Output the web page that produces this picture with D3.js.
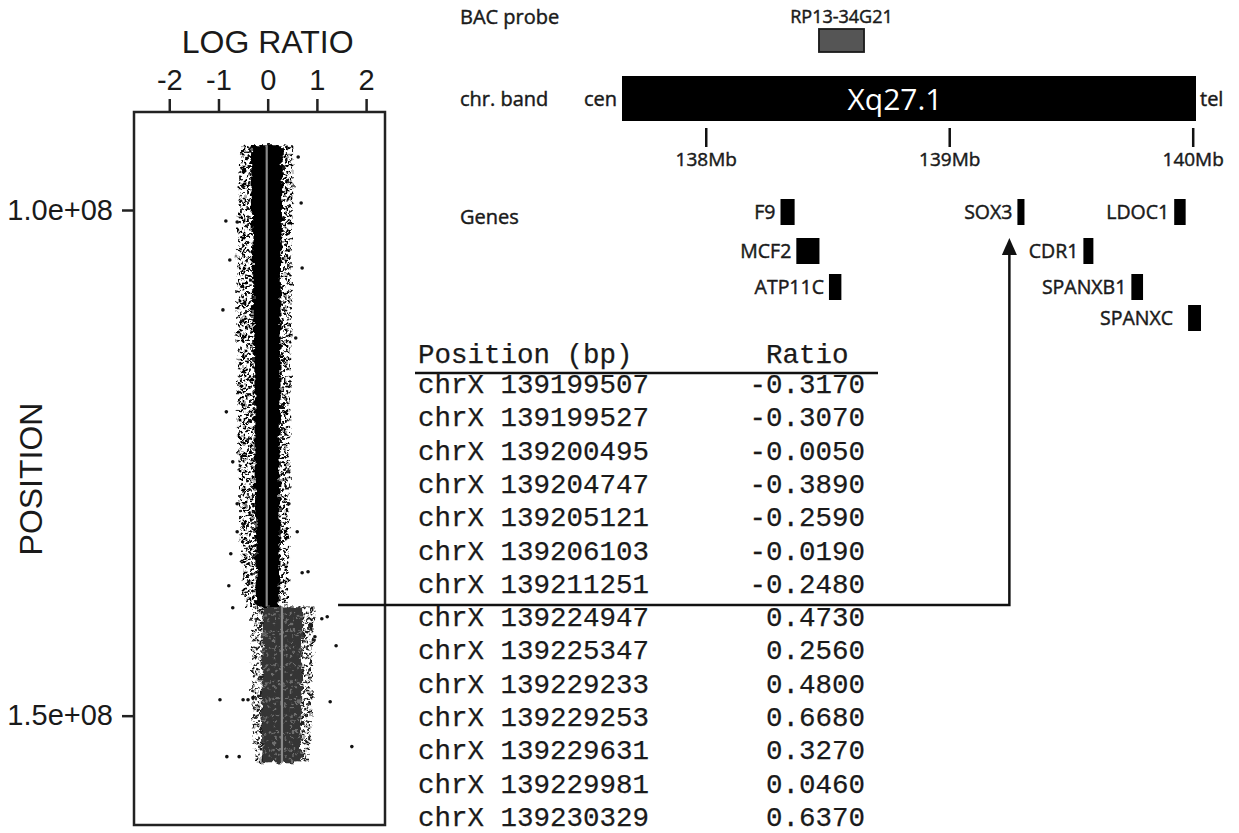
<!DOCTYPE html>
<html>
<head>
<meta charset="utf-8">
<script src="https://cdn.jsdelivr.net/npm/d3@7"></script>
<style>
  body { margin: 0; background: #fff; }
  .sans { font-family: "Liberation Sans", Arial, sans-serif; fill: #1a1a1a; }
  .lab { font-family: "Open Sans", "Noto Sans", sans-serif; fill: #1a1a1a; stroke: #1a1a1a; stroke-width: 0.45px; }
  .mono { font-family: "Liberation Mono", "Courier New", monospace; fill: #1a1a1a; stroke: #1a1a1a; stroke-width: 0.25px; }
</style>
</head>
<body>
<script>
// Screen dimensions.
const WIDTH = 1239;
const HEIGHT = 833;

// Left panel: axis ticks (log ratio, position in Mb).
const ratioTicks = [-2, -1, 0, 1, 2];
const positionTicks = [100, 150];

// Segments of the profile (Mb) and their median log ratio.
const segStart = [93.6, 139.21];
const segEnd = [139.21, 154.6];
const segMedian = [-0.02, 0.29];

// Envelope of the probe cloud (Mb, log ratio).
const upperPos = [93.6, 97, 103, 110, 117, 124, 131, 136, 139.21];
const upperSpreadLo = [-0.54, -0.58, -0.62, -0.64, -0.62, -0.60, -0.56, -0.52, -0.48];
const upperSpreadHi = [0.51, 0.53, 0.49, 0.49, 0.47, 0.45, 0.45, 0.43, 0.41];
const upperCoreLo = [-0.34, -0.33, -0.31, -0.29, -0.27, -0.27, -0.25, -0.25, -0.23];
const upperCoreHi = [0.31, 0.30, 0.28, 0.26, 0.26, 0.24, 0.24, 0.24, 0.24];

const lowerPos = [139.21, 142, 146, 150, 154.6];
const lowerSpreadLo = [-0.36, -0.32, -0.34, -0.32, -0.26];
const lowerSpreadHi = [0.98, 0.94, 0.92, 0.90, 0.82];
const lowerCoreLo = [-0.10, -0.10, -0.12, -0.12, -0.10];
const lowerCoreHi = [0.70, 0.70, 0.68, 0.68, 0.68];

// Isolated probes outside the cloud.
const outlierPos = [94.76, 99.31, 101.09, 101.19, 104.94, 105.73, 109.88, 112.65, 119.96, 124.9,
  129.05, 129.05, 131.82, 131.82, 133.99, 135.77, 135.87, 137.15, 139.33, 140.22, 140.42,
  142.19, 143.08, 148.22, 148.42, 148.42, 148.42, 148.62, 153.06, 154.05, 154.05];
const outlierRatio = [0.62, 0.68, -0.85, -0.62, -0.77, 0.70, -0.91, 0.57, -0.84, -0.71,
  -0.62, 0.43, -0.62, 0.60, -0.75, 0.82, 0.70, -0.79, -0.71, 1.21, 1.10,
  0.96, 1.39, -0.30, -0.97, -0.50, -0.40, 1.27, 1.71, -0.83, -0.58];

// Right panel: chromosome band, BAC probe, genes (Mb).
const bandName = 'Xq27.1';
const bandStart = 137.654;
const bandEnd = 140.0115;
const mbTicks = [138, 139, 140];
const bacName = 'RP13-34G21';
const bacStart = 138.463;
const bacEnd = 138.648;
const geneNames = ['F9', 'MCF2', 'ATP11C', 'SOX3', 'CDR1', 'SPANXB1', 'LDOC1', 'SPANXC'];
const geneStart = [138.305, 138.370, 138.504, 139.278, 139.549, 139.746, 139.922, 139.979];
const geneEnd = [138.363, 138.465, 138.555, 139.307, 139.590, 139.794, 139.969, 140.032];
const geneRow = [0, 1, 2, 0, 1, 2, 0, 3];
const breakpointTarget = 139.245;

// Table of probes around the breakpoint.
const tablePos = [139199507, 139199527, 139200495, 139204747, 139205121, 139206103, 139211251,
  139224947, 139225347, 139229233, 139229253, 139229631, 139229981, 139230329];
const tableRatio = [-0.3170, -0.3070, -0.0050, -0.3890, -0.2590, -0.0190, -0.2480,
  0.4730, 0.2560, 0.4800, 0.6680, 0.3270, 0.0460, 0.6370];

// SVG
const svg = d3.select('body').append('svg').attr('width', WIDTH).attr('height', HEIGHT);

// textures for the cloud of probes
const defs = svg.append('defs');
function speckle(id, color, size, r, dots) {
  const p = defs.append('pattern').attr('id', id)
    .attr('width', size).attr('height', size).attr('patternUnits', 'userSpaceOnUse');
  dots.forEach(c => {
    p.append('circle').attr('cx', c[0]).attr('cy', c[1]).attr('r', r).attr('fill', color);
  });
}
const tileDots = [[1.5, 2], [6, 1], [11, 3.5], [15, 1.5], [3.5, 7], [8.5, 6], [13.5, 8.5], [2, 12],
  [7, 11], [11.5, 13.5], [15.5, 12], [4.5, 15.5], [9.5, 16], [0.5, 9], [14, 5], [6, 14]];
speckle('speckA', '#000', 17, 1.5, tileDots);
speckle('speckB', '#1e1e1e', 17, 1.5, tileDots);
speckle('mottle', '#6e6e6e', 17, 1.3, tileDots.slice(0, 8));

const rough = defs.append('filter').attr('id', 'rough')
  .attr('x', '-20%').attr('y', '-5%').attr('width', '140%').attr('height', '110%');
rough.append('feTurbulence').attr('type', 'fractalNoise').attr('baseFrequency', 0.18)
  .attr('numOctaves', 2).attr('seed', 5).attr('result', 'n');
rough.append('feDisplacementMap').attr('in', 'SourceGraphic').attr('in2', 'n')
  .attr('scale', 8).attr('xChannelSelector', 'R').attr('yChannelSelector', 'G');

// ---------- left panel ----------
const x = d3.scaleLinear().domain([-2.717, 2.384]).range([134, 385]);
const y = d3.scaleLinear().domain([90.31, 160.81]).range([112, 825]);

svg.append('text').attr('class', 'sans')
  .attr('x', x(0)).attr('y', 53)
  .attr('text-anchor', 'middle').style('font-size', '32px')
  .text('LOG RATIO');

svg.append('text').attr('class', 'sans')
  .attr('transform', 'translate(42,479) rotate(-90)')
  .attr('text-anchor', 'middle').style('font-size', '32px')
  .text('POSITION');

const topAxis = svg.append('g').attr('transform', 'translate(0,112)')
  .call(d3.axisTop(x).tickValues(ratioTicks).tickSize(13).tickPadding(9).tickFormat(d => String(d)));
topAxis.select('.domain').remove();

function sci(mb) {
  const s = d3.format('.1e')(mb * 1e6).replace('\u2212', '-');
  return s.replace(/e\+(\d)$/, 'e+0$1');
}
const leftAxis = svg.append('g').attr('transform', 'translate(134,0)')
  .call(d3.axisLeft(y).tickValues(positionTicks).tickSize(12).tickPadding(9).tickFormat(sci));
leftAxis.select('.domain').remove();

[topAxis, leftAxis].forEach(a => {
  a.selectAll('line').attr('stroke', '#222').attr('stroke-width', 2.5);
  a.selectAll('text').attr('class', 'sans').attr('fill', '#1a1a1a')
    .style('font-family', '"Liberation Sans", Arial, sans-serif').style('font-size', '29px');
});

const band = (pos, lo, hi) => pos.map((p, i) => ({ p: p, lo: lo[i], hi: hi[i] }));
const area = d3.area().y(d => y(d.p)).x0(d => x(d.lo)).x1(d => x(d.hi)).curve(d3.curveMonotoneY);

const cloud = svg.append('g');
const fringe = cloud.append('g').attr('filter', 'url(#rough)');
fringe.append('path').attr('d', area(band(upperPos, upperSpreadLo, upperSpreadHi)))
  .attr('fill', 'url(#speckA)');
fringe.append('path').attr('d', area(band(lowerPos, lowerSpreadLo, lowerSpreadHi)))
  .attr('fill', 'url(#speckB)');
const core = cloud.append('g').attr('filter', 'url(#rough)');
core.append('path').attr('d', area(band(upperPos, upperCoreLo, upperCoreHi)))
  .attr('fill', '#000');
core.append('path').attr('d', area(band(lowerPos, lowerCoreLo, lowerCoreHi)))
  .attr('fill', '#353535');
core.append('path').attr('d', area(band(lowerPos, lowerCoreLo, lowerCoreHi)))
  .attr('fill', 'url(#mottle)');

cloud.selectAll('circle.out').data(outlierPos).enter().append('circle')
  .attr('class', 'out')
  .attr('cx', (d, i) => x(outlierRatio[i]))
  .attr('cy', d => y(d))
  .attr('r', 1.8)
  .attr('fill', '#111');

// segment medians
cloud.selectAll('line.med').data(segMedian).enter().append('line')
  .attr('class', 'med')
  .attr('x1', d => x(d)).attr('x2', d => x(d))
  .attr('y1', (d, i) => y(segStart[i])).attr('y2', (d, i) => y(segEnd[i]))
  .attr('stroke', '#8a8a8a').attr('stroke-width', 2.2);

svg.append('rect')
  .attr('x', x.range()[0]).attr('y', y.range()[0])
  .attr('width', x.range()[1] - x.range()[0]).attr('height', y.range()[1] - y.range()[0])
  .attr('fill', 'none').attr('stroke', '#222').attr('stroke-width', 2.5);

// ---------- right panel ----------
const g = d3.scaleLinear().domain([bandStart, bandEnd]).range([622, 1196]);

const rowY = [212, 251, 287, 318];

svg.append('text').attr('class', 'lab').attr('x', 460).attr('y', 24)
  .style('font-size', '20px').text('BAC probe');
svg.append('text').attr('class', 'lab').attr('x', 460).attr('y', 106)
  .style('font-size', '20px').text('chr. band');
svg.append('text').attr('class', 'lab').attr('x', 460).attr('y', 224)
  .style('font-size', '20px').text('Genes');

svg.append('text').attr('class', 'lab')
  .attr('x', (g(bacStart) + g(bacEnd)) / 2).attr('y', 23)
  .attr('text-anchor', 'middle').style('font-size', '18px').text(bacName);
svg.append('rect')
  .attr('x', g(bacStart)).attr('y', 29)
  .attr('width', g(bacEnd) - g(bacStart)).attr('height', 23)
  .attr('fill', '#555').attr('stroke', '#1a1a1a').attr('stroke-width', 1.8);

svg.append('rect')
  .attr('x', g(bandStart)).attr('y', 76)
  .attr('width', g(bandEnd) - g(bandStart)).attr('height', 45)
  .attr('fill', '#000');
svg.append('text').attr('class', 'lab')
  .attr('x', 895).attr('y', 110).attr('text-anchor', 'middle')
  .style('font-size', '30px').style('fill', '#fff').style('stroke', 'none').text(bandName);
svg.append('text').attr('class', 'lab')
  .attr('x', g(bandStart) - 5).attr('y', 106).attr('text-anchor', 'end')
  .style('font-size', '20px').text('cen');
svg.append('text').attr('class', 'lab')
  .attr('x', g(bandEnd) + 4).attr('y', 106)
  .style('font-size', '20px').text('tel');

const mbAxis = svg.append('g').attr('transform', 'translate(0,128)');
mbAxis.selectAll('line').data(mbTicks).enter().append('line')
  .attr('x1', d => g(d)).attr('x2', d => g(d))
  .attr('y1', 0).attr('y2', 19)
  .attr('stroke', '#111').attr('stroke-width', 2.5);
mbAxis.selectAll('text').data(mbTicks).enter().append('text')
  .attr('class', 'lab')
  .attr('x', d => g(d)).attr('y', 38).attr('text-anchor', 'middle')
  .style('font-size', '19px')
  .text(d => d + 'Mb');

const genes = svg.append('g');
genes.selectAll('rect').data(geneNames).enter().append('rect')
  .attr('x', (d, i) => g(geneStart[i]))
  .attr('y', (d, i) => rowY[geneRow[i]] - 13)
  .attr('width', (d, i) => g(geneEnd[i]) - g(geneStart[i]))
  .attr('height', 26)
  .attr('fill', '#000');
genes.selectAll('text').data(geneNames).enter().append('text')
  .attr('class', 'lab')
  .attr('x', (d, i) => g(geneStart[i]) - (d === 'SPANXC' ? 15 : 5))
  .attr('y', (d, i) => rowY[geneRow[i]] + 7)
  .attr('text-anchor', 'end')
  .style('font-size', '19.5px')
  .text(d => d);

// ---------- table ----------
const tx = 418;
const rowH = 33.3;
const table = svg.append('g');
table.append('text').attr('class', 'mono').attr('x', tx).attr('y', 363)
  .style('font-size', '27.5px').attr('xml:space', 'preserve').text('Position (bp)');
table.append('text').attr('class', 'mono').attr('x', 766).attr('y', 363)
  .style('font-size', '27.5px').text('Ratio');
table.append('line').attr('x1', 415).attr('x2', 878).attr('y1', 373).attr('y2', 373)
  .attr('stroke', '#111').attr('stroke-width', 2.5);
table.selectAll('text.pos').data(tablePos).enter().append('text')
  .attr('class', 'mono pos')
  .attr('x', tx).attr('y', (d, i) => 393 + i * rowH)
  .style('font-size', '27.5px')
  .text(d => 'chrX ' + d);
table.selectAll('text.rat').data(tableRatio).enter().append('text')
  .attr('class', 'mono rat')
  .attr('x', 865).attr('y', (d, i) => 393 + i * rowH)
  .attr('text-anchor', 'end')
  .style('font-size', '27.5px')
  .text(d => d.toFixed(4));

// ---------- breakpoint connector ----------
const by = y(segEnd[0]) - 1.5;
const ax = g(breakpointTarget);
svg.append('path')
  .attr('d', `M${x(1.43)},${by}H${ax}V253`)
  .attr('fill', 'none').attr('stroke', '#111').attr('stroke-width', 2.5);
svg.append('path')
  .attr('d', `M${ax - 7.5},255L${ax},238L${ax + 7.5},255Z`)
  .attr('fill', '#111');
</script>
</body>
</html>
